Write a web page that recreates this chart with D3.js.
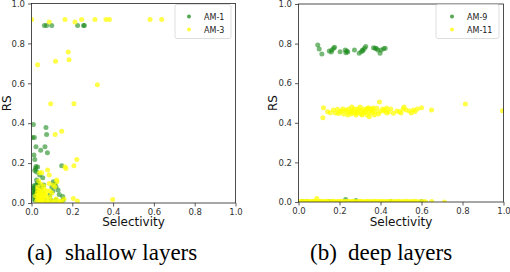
<!DOCTYPE html>
<html><head><meta charset="utf-8">
<script src="https://cdn.jsdelivr.net/npm/d3@7"></script>
<style>body{margin:0;background:#fff}svg{display:block}</style>
</head><body>
<svg id="c" width="510" height="272"></svg>
<script>
const ticks = [0.0, 0.2, 0.4, 0.6, 0.8, 1.0];
const tickLabels = ["0.0","0.2","0.4","0.6","0.8","1.0"];
const xLabel = "Selectivity";
const yLabel = "RS";
const captions = [["(a)","shallow layers"],["(b)","deep layers"]];
const seriesNamesA = ["AM-1","AM-3"];
const seriesNamesB = ["AM-9","AM-11"];

const am1 = [[0.063,0.89],[0.074,0.89],[0.099,0.89],[0.226,0.89],[0.259,0.89],[0.255,0.89],
[0.009,0.393],[0.004,0.328],[0.014,0.328],[0.071,0.378],[0.074,0.343],[0.022,0.282],[0.066,0.282],[0.045,0.265],[0.078,0.252],
[0.012,0.24],[0.016,0.218],[0.022,0.183],[0.016,0.163],[0.02,0.173],[0.148,0.187],[0.055,0.127],[0.025,0.115],[0.032,0.102],
[0.01,0.085],[0.013,0.075],[0.016,0.065],[0.007,0.057],[0.02,0.057],[0.107,0.107],[0.115,0.095],[0.12,0.082],[0.13,0.065],
[0.136,0.043],[0.153,0.032],[0.066,0.015],[0.094,0.015],[0.12,0.015],[0.155,0.015],[0.009,0.018],[0.02,0.015],
[0.005,0.075],[0.02,0.09],[0.03,0.1],[0.025,0.06],[0.012,0.05],[0.008,0.04],[0.04,0.085],[0.018,0.03],[0.045,0.07],
[0.06,0.09],[0.055,0.05],[0.1,0.08],[0.105,0.06],[0.09,0.04],[0.03,0.18],[0.025,0.155],[0.04,0.14]];

const am3 = [[0.001,0.92],[0.087,0.907],[0.164,0.92],[0.213,0.907],[0.246,0.92],[0.311,0.92],[0.365,0.92],[0.382,0.92],[0.581,0.92],[0.638,0.92],
[0.18,0.757],[0.184,0.718],[0.118,0.71],[0.03,0.693],[0.323,0.593],[0.094,0.498],[0.208,0.498],[0.148,0.36],[0.116,0.343],
[0.222,0.218],[0.208,0.187],[0.164,0.182],[0.169,0.173],[0.079,0.165],[0.04,0.152],[0.05,0.152],[0.087,0.14],[0.123,0.115],
[0.125,0.107],[0.087,0.098],[0.107,0.09],[0.115,0.082],[0.205,0.023],[0.225,0.01],[0.398,0.018],[0.148,0.01],
[0.03,0.08],[0.04,0.06],[0.05,0.07],[0.035,0.04],[0.045,0.03],[0.055,0.02],[0.06,0.05],[0.07,0.035],[0.075,0.06],[0.065,0.01],
[0.04,0.005],[0.05,0.01],[0.03,0.02],[0.025,0.01],[0.08,0.02],[0.085,0.005],[0.09,0.03],[0.1,0.01],[0.11,0.005],[0.12,0.02],
[0.13,0.01],[0.06,0.085],[0.045,0.095],[0.035,0.11],[0.028,0.05],[0.04,0.045],[0.055,0.04],[0.065,0.065],[0.02,0.035],
[0.075,0.005],[0.045,0.015],[0.058,0.028],[0.035,0.025],[0.05,0.055],[0.068,0.045],[0.03,0.065],[0.09,0.06],[0.1,0.05],
[0.14,0.005],[0.16,0.02]];

const am9 = [[0.094,0.793],[0.101,0.773],[0.114,0.747],[0.15,0.763],[0.163,0.768],[0.171,0.776],[0.176,0.781],[0.16,0.758],
[0.203,0.759],[0.228,0.768],[0.236,0.763],[0.231,0.754],[0.24,0.758],[0.273,0.768],[0.296,0.751],[0.306,0.759],[0.312,0.768],
[0.322,0.776],[0.328,0.785],[0.315,0.765],[0.366,0.779],[0.374,0.776],[0.387,0.768],[0.398,0.751],[0.403,0.768],[0.415,0.774],
[0.423,0.776],[0.38,0.775],
[0.02,0.003],[0.04,0.002],[0.23,0.012],[0.28,0.007],[0.6,0.003],[0.15,0.002],[0.45,0.002]];

const am11 = [[0.122,0.476],[0.119,0.426],[0.142,0.456],[0.155,0.451],[0.19,0.468],[0.195,0.447],[0.216,0.47],[0.236,0.457],
[0.26,0.48],[0.285,0.47],[0.309,0.46],[0.325,0.457],[0.341,0.476],[0.358,0.468],[0.395,0.505],[0.382,0.473],[0.398,0.457],
[0.423,0.465],[0.463,0.448],[0.492,0.456],[0.515,0.48],[0.525,0.465],[0.56,0.465],[0.568,0.457],[0.6,0.476],[0.649,0.465],
[0.814,0.495],[0.995,0.461],
[0.2,0.455],[0.21,0.46],[0.22,0.445],[0.23,0.465],[0.24,0.44],[0.245,0.47],[0.25,0.455],[0.255,0.445],[0.265,0.46],[0.27,0.47],
[0.275,0.45],[0.28,0.44],[0.29,0.455],[0.295,0.465],[0.3,0.48],[0.305,0.445],[0.315,0.47],[0.32,0.45],[0.33,0.465],[0.335,0.44],
[0.34,0.455],[0.345,0.43],[0.35,0.47],[0.355,0.45],[0.36,0.46],[0.365,0.475],[0.37,0.44],[0.375,0.455],[0.39,0.445],[0.41,0.47],
[0.415,0.46],[0.43,0.475],[0.44,0.455],[0.45,0.47],[0.48,0.46],[0.5,0.45],[0.51,0.47],[0.54,0.46],[0.58,0.47],[0.26,0.455],
[0.285,0.45],[0.335,0.472],[0.31,0.44],[0.43,0.45],[0.55,0.45],[0.18,0.45],[0.17,0.465],
[0.089,0.018],[0.712,0.0],[0.65,0.003],
[0.005,0.002],[0.015,0.004],[0.022,0.001],[0.03,0.003],[0.038,0.002],[0.045,0.004],[0.05,0.001],[0.06,0.003],[0.068,0.002],
[0.075,0.004],[0.082,0.001],[0.09,0.003],[0.1,0.002],[0.108,0.004],[0.115,0.001],[0.125,0.003],[0.13,0.002],[0.14,0.004],
[0.148,0.001],[0.155,0.003],[0.165,0.002],[0.17,0.004],[0.18,0.001],[0.19,0.003],[0.198,0.002],[0.205,0.004],[0.215,0.001],
[0.22,0.003],[0.23,0.002],[0.24,0.004],[0.248,0.001],[0.255,0.003],[0.265,0.002],[0.27,0.004],[0.28,0.001],[0.29,0.003],
[0.3,0.002],[0.305,0.004],[0.315,0.001],[0.325,0.003],[0.33,0.002],[0.34,0.004],[0.35,0.001],[0.36,0.003],[0.365,0.002],
[0.375,0.004],[0.385,0.001],[0.39,0.003],[0.4,0.002],[0.41,0.004],[0.42,0.001],[0.43,0.003],[0.44,0.002],[0.45,0.004],
[0.46,0.001],[0.47,0.003],[0.48,0.002],[0.49,0.004],[0.5,0.001],[0.51,0.003],[0.52,0.002],[0.53,0.004],[0.54,0.001],
[0.55,0.003],[0.56,0.002],[0.57,0.004],[0.58,0.001],[0.595,0.003],[0.61,0.002],[0.62,0.001]];

const GREEN = "#1a8a1a", YELLOW = "#ffff00";
const svg = d3.select("#c");
const tickFont = "DejaVu Sans";

function panel(idx, xr, yr, series, names, legendBox, labelX, rsX) {
  const x = d3.scaleLinear().domain([0,1]).range(xr);
  const y = d3.scaleLinear().domain([0,1]).range(yr);
  const g = svg.append("g");
  const cid = "clip" + idx;
  svg.append("clipPath").attr("id", cid).append("rect")
    .attr("x", xr[0]).attr("y", yr[1]).attr("width", xr[1]-xr[0]).attr("height", yr[0]-yr[1]);
  const pts = g.append("g").attr("clip-path", `url(#${cid})`);
  const cols = [GREEN, YELLOW];
  const ops = [0.6, 0.72];
  series.forEach((s, i) => {
    pts.selectAll(null).data(s).enter().append("circle")
      .attr("cx", d => x(d[0])).attr("cy", d => y(d[1])).attr("r", 2.5)
      .attr("fill", cols[i]).attr("fill-opacity", ops[i]).attr("stroke", "none");
  });
  const fmt = (d) => tickLabels[ticks.indexOf(d)];
  const ax = g.append("g").attr("transform", `translate(0,${yr[0]})`)
    .call(d3.axisBottom(x).tickValues(ticks).tickFormat(fmt).tickSize(3.5).tickPadding(2));
  const ay = g.append("g").attr("transform", `translate(${xr[0]},0)`)
    .call(d3.axisLeft(y).tickValues(ticks).tickFormat(fmt).tickSize(3.5).tickPadding(3));
  [ax, ay].forEach(a => {
    a.select(".domain").remove();
    a.selectAll("line").attr("stroke", "#333").attr("stroke-width", 0.8);
    a.selectAll("text").attr("font-family", tickFont).attr("font-size", 8.5).attr("fill", "#333");
  });
  g.append("rect").attr("x", xr[0]).attr("y", yr[1]).attr("width", xr[1]-xr[0]).attr("height", yr[0]-yr[1])
    .attr("fill", "none").attr("stroke", "#222").attr("stroke-width", 0.8);
  g.append("text").attr("x", (xr[0]+xr[1])/2).attr("y", 226).attr("text-anchor", "middle")
    .attr("font-family", tickFont).attr("font-size", 12).attr("fill", "#111").text(xLabel);
  g.append("text").attr("transform", `translate(${rsX},${(yr[0]+yr[1])/2}) rotate(-90)`).attr("text-anchor", "middle")
    .attr("font-family", tickFont).attr("font-size", 12).attr("fill", "#111").text(yLabel);
  const [lx, ly, lw, lh] = legendBox;
  g.append("rect").attr("x", lx).attr("y", ly).attr("width", lw).attr("height", lh).attr("rx", 2)
    .attr("fill", "#fff").attr("fill-opacity", 0.8).attr("stroke", "#d5d5d5").attr("stroke-width", 0.8);
  names.forEach((n, i) => {
    const cy = ly + 12 + i * 13;
    g.append("circle").attr("cx", lx + labelX[0]).attr("cy", cy).attr("r", 2)
      .attr("fill", cols[i]).attr("fill-opacity", 0.75);
    g.append("text").attr("x", lx + labelX[1]).attr("y", cy + 3).attr("font-family", tickFont)
      .attr("font-size", 8).attr("fill", "#222").text(n);
  });
}

panel(0, [31.5, 235.5], [203, 3.5], [am1, am3], seriesNamesA, [175, 4.5, 56, 34], [14, 29], 11);
panel(1, [298.5, 503.5], [202, 4], [am9, am11], seriesNamesB, [436, 4.5, 63, 34], [16, 31], 277);

const capPos = [[27, 65], [310, 348]];
captions.forEach((c, i) => {
  const t = svg.append("text").attr("y", 260).attr("font-family", "Liberation Serif").attr("font-size", 23).attr("fill", "#000");
  t.append("tspan").attr("x", capPos[i][0]).text(c[0]);
  t.append("tspan").attr("x", capPos[i][1]).text(c[1]);
});
</script>
</body></html>
